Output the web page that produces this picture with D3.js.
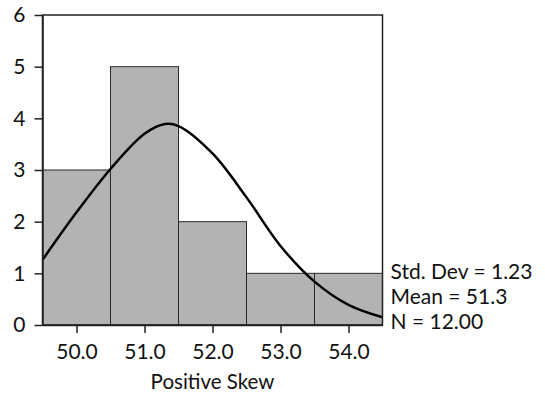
<!DOCTYPE html>
<html>
<head>
<meta charset="utf-8">
<script src="https://cdn.jsdelivr.net/npm/d3@7"></script>
<style>
  body { margin: 0; background: #fff; }
  svg text { font-family: "Lato", "DejaVu Sans", sans-serif; fill: #111; }
</style>
</head>
<body>
<svg id="chart" width="545" height="396"></svg>
<script>
// histogram bins (centre values) and counts
const binCenters = [50, 51, 52, 53, 54];
const counts = [3, 5, 2, 1, 1];
const xTicks = [50, 51, 52, 53, 54];
const yTicks = [0, 1, 2, 3, 4, 5, 6];
// normal curve
const curveX = [49.5, 50.0, 50.5, 51.0, 51.3, 51.5, 52.0, 52.5, 53.0, 53.5, 54.0, 54.5];
const curveY = [1.26, 2.18, 3.02, 3.70, 3.89, 3.85, 3.32, 2.47, 1.53, 0.84, 0.39, 0.15];
const stats = ["Std. Dev = 1.23", "Mean = 51.3", "N = 12.00"];
const xTitle = "Positive Skew";

const margin = { top: 15, left: 42.5, right: 162.5, bottom: 71 };
const width = 545 - margin.left - margin.right;
const height = 396 - margin.top - margin.bottom;

const svg = d3.select("#chart");
const g = svg.append("g").attr("transform", `translate(${margin.left},${margin.top})`);

const x = d3.scaleLinear().domain([49.5, 54.5]).range([0, width]);
const y = d3.scaleLinear().domain([0, 6]).range([height, 0]);

// bars
g.selectAll(".bar")
  .data(binCenters)
  .join("rect")
  .attr("class", "bar")
  .attr("x", (d) => x(d - 0.5))
  .attr("y", (d, i) => y(counts[i]))
  .attr("width", (d) => x(d + 0.5) - x(d - 0.5))
  .attr("height", (d, i) => height - y(counts[i]))
  .attr("fill", "#b3b3b3")
  .attr("stroke", "#2a2a2a")
  .attr("stroke-width", 1);

// curve
const line = d3.line()
  .x((d) => x(d[0]))
  .y((d) => y(d[1]))
  .curve(d3.curveCatmullRom.alpha(0.5));

g.append("path")
  .datum(curveX.map((v, i) => [v, curveY[i]]))
  .attr("d", line)
  .attr("fill", "none")
  .attr("stroke", "#000")
  .attr("stroke-width", 2.5);

// frame (top + right)
g.append("rect")
  .attr("x", 0)
  .attr("y", 0)
  .attr("width", width)
  .attr("height", height)
  .attr("fill", "none")
  .attr("stroke", "#222")
  .attr("stroke-width", 1.5);

// axes
const yAxis = g.append("g")
  .call(d3.axisLeft(y).tickValues(yTicks).tickFormat(d3.format("d")).tickSize(8).tickSizeOuter(0).tickPadding(9));

const xAxis = g.append("g")
  .attr("transform", `translate(0,${height})`)
  .call(d3.axisBottom(x).tickValues(xTicks).tickFormat(d3.format(".1f")).tickSize(8).tickSizeOuter(0).tickPadding(11.5));

[yAxis, xAxis].forEach((a) => {
  a.select(".domain").attr("stroke", "#222").attr("stroke-width", 1.5);
  a.selectAll(".tick line").attr("stroke", "#222").attr("stroke-width", 1.5);
  a.selectAll("text").attr("font-size", 21).attr("fill", "#111").attr("font-family", null);
});

// x title
g.append("text")
  .attr("x", x(52))
  .attr("y", height + 63.5)
  .attr("text-anchor", "middle")
  .attr("font-size", 20.5)
  .text(xTitle);

// stats text
g.selectAll(".stat")
  .data(stats)
  .join("text")
  .attr("class", "stat")
  .attr("x", width + 8)
  .attr("y", (d, i) => y(1) + 6 + i * 25)
  .attr("font-size", 21)
  .text((d) => d);
</script>
</body>
</html>
